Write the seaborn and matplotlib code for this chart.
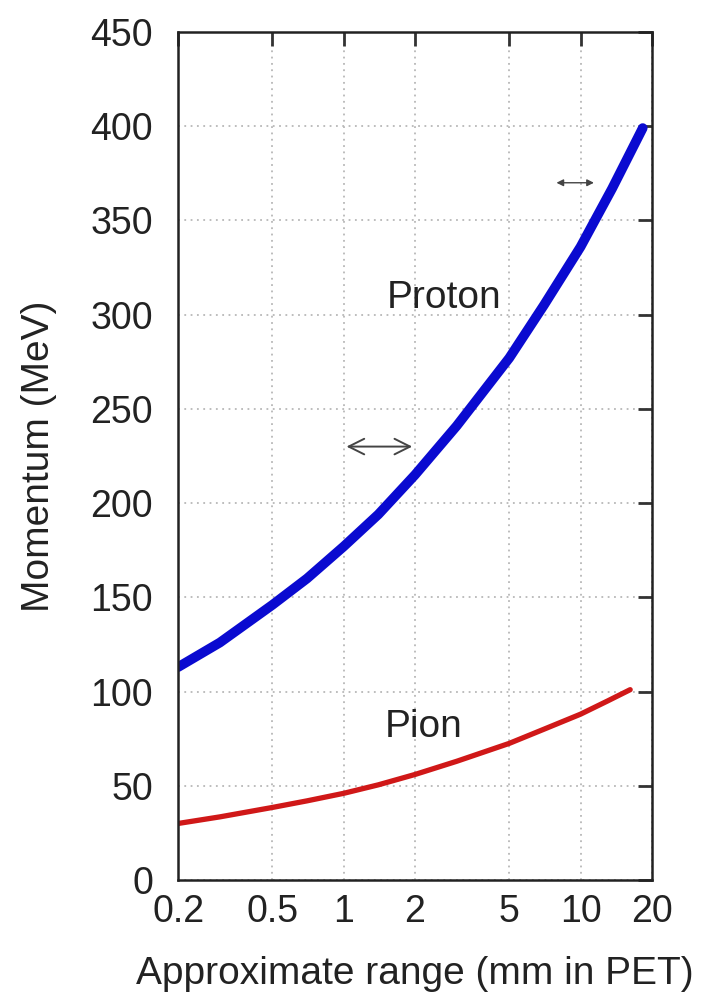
import matplotlib
matplotlib.use("Agg")
import matplotlib.pyplot as plt
import seaborn as sns
import pandas as pd

# du lieu doc tu hinh
proton_range = [0.2, 0.3, 0.5, 0.7, 1, 1.4, 2, 3, 5, 7, 10, 13.6, 18.3]
proton_momentum = [113, 126, 146, 160, 177, 194, 215, 241, 277, 305, 336, 367, 399]
pion_range = [0.2, 0.3, 0.5, 0.7, 1, 1.4, 2, 3, 5, 7, 10, 13, 16.2]
pion_momentum = [30, 33.5, 38.5, 42, 46, 50.5, 56, 63, 72.5, 80, 88, 95, 101]

x_ticks = [0.2, 0.5, 1, 2, 5, 10, 20]
x_tick_labels = ["0.2", "0.5", "1", "2", "5", "10", "20"]
y_ticks = [0, 50, 100, 150, 200, 250, 300, 350, 400, 450]

sns.set_theme(style="white")
plt.rcParams['font.family'] = ['Liberation Sans', 'DejaVu Sans']

proton = pd.DataFrame({"range": proton_range, "p": proton_momentum})
pion = pd.DataFrame({"range": pion_range, "p": pion_momentum})

fig = plt.figure(figsize=(7.07, 10), dpi=100)
ax = fig.add_axes([0.252, 0.12, 0.670, 0.848])

sns.lineplot(data=proton, x="range", y="p", ax=ax, color="#0a0ad0", linewidth=7)
sns.lineplot(data=pion, x="range", y="p", ax=ax, color="#d01818", linewidth=3.8)

ax.set_xscale("log")
ax.set_xlim(0.2, 20)
ax.set_ylim(0, 450)
ax.set_xticks(x_ticks)
ax.set_xticklabels(x_tick_labels)
ax.minorticks_off()
ax.set_yticks(y_ticks)

ax.grid(True, color="#b8b8b8", linestyle=(0, (1, 2.5)), linewidth=1.3)
for s in ax.spines.values():
	s.set_color("#222222")
	s.set_linewidth(1.8)
ax.tick_params(direction="in", length=10, width=2, color="#333333",
			   top=True, right=True, labelsize=27, labelcolor="#222222")
ax.tick_params(axis="x", pad=10)
ax.tick_params(axis="y", pad=18)

ax.set_xlabel("Approximate range (mm in PET)", fontsize=28, color="#222222", labelpad=19)
ax.set_ylabel("Momentum (MeV)", fontsize=28, color="#222222", labelpad=24)

# nhan ten hat
ax.text(2.65, 309, "Proton", fontsize=28, color="#222222", ha="center", va="center")
ax.text(2.18, 81, "Pion", fontsize=28, color="#222222", ha="center", va="center")

# mui ten hai dau
ax.annotate("", xy=(1.0, 230), xytext=(2.0, 230),
			arrowprops=dict(arrowstyle="<->", color="#444444", lw=1.4, mutation_scale=28))
ax.annotate("", xy=(7.7, 370), xytext=(11.7, 370),
			arrowprops=dict(arrowstyle="<|-|>", color="#444444", lw=1.0, mutation_scale=10))

fig.savefig("out.png", dpi=100)
